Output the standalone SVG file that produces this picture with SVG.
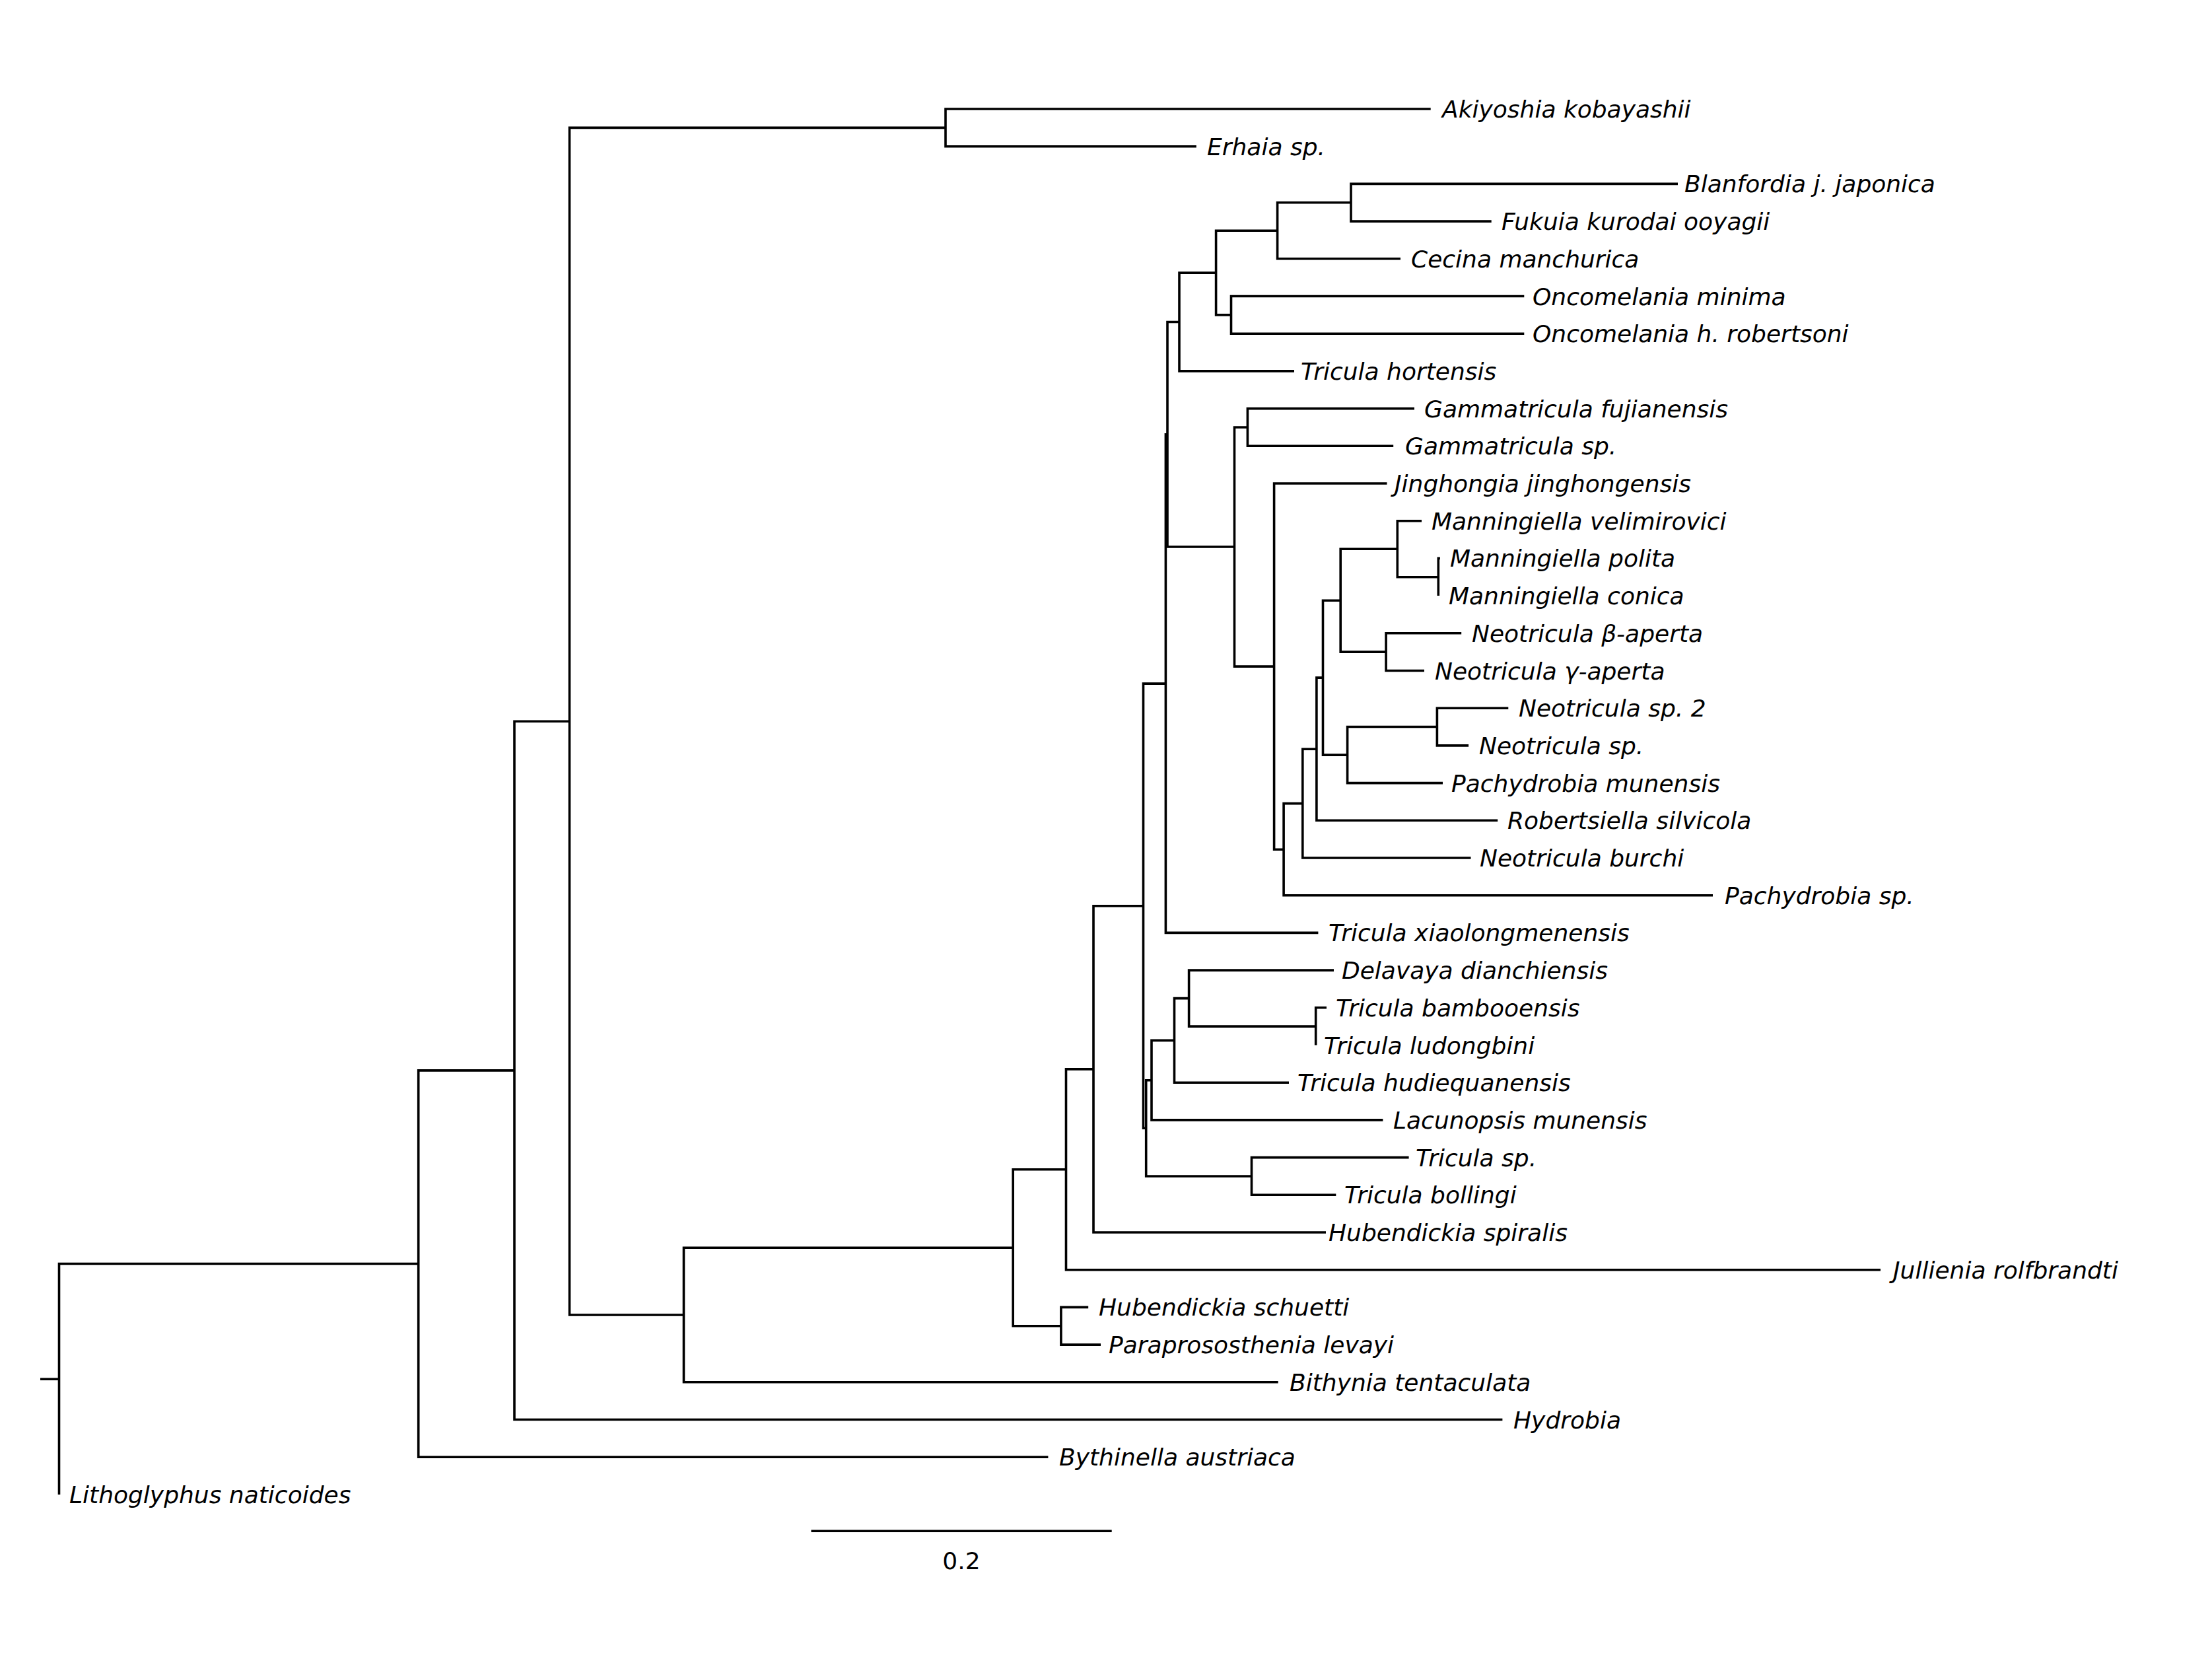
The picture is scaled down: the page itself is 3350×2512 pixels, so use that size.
<svg xmlns="http://www.w3.org/2000/svg" width="3350" height="2512" viewBox="0 0 3350 2512">
<style>
.br{fill:none;stroke:#000;stroke-width:3.6;stroke-linejoin:miter;stroke-linecap:butt}
.lb{font-family:"DejaVu Sans","Liberation Sans",sans-serif;font-style:italic;font-size:36px;fill:#000}
.sc{font-family:"DejaVu Sans","Liberation Sans",sans-serif;font-size:36px;fill:#000;text-anchor:middle}
</style>
<rect width="3350" height="2512" fill="#fff"/>
<g id="branches">
<path class="br" d="M61,2088.2 H89.5"/>
<path class="br" d="M633.7,1913.5 H89.5 V2262.9"/>
<path class="br" d="M779,1620.9 H633.7 V2206.2 H1587.4"/>
<path class="br" d="M862.5,1092.2 H779 V2149.5 H2275.4"/>
<path class="br" d="M1432,193.35 H862.5 V1991 H1035.5"/>
<path class="br" d="M2166.7,165 H1432 V221.7 H1811.8"/>
<path class="br" d="M1534.2,1889.3 H1035.5 V2092.8 H1935.7"/>
<path class="br" d="M1614.5,1770.8 H1534.2 V2007.75 H1606.9"/>
<path class="br" d="M1648.2,1979.4 H1606.9 V2036.1 H1667"/>
<path class="br" d="M1656,1618.9 H1614.5 V1922.7 H2848"/>
<path class="br" d="M1731.5,1371.7 H1656 V1866 H2008"/>
<path class="br" d="M1765.4,1035.1 H1731.5 V1708.3 H1735.7"/>
<path class="br" d="M1744,1635.7 H1735.7 V1780.95 H1895.5"/>
<path class="br" d="M2133.6,1752.6 H1895.5 V1809.3 H2023.3"/>
<path class="br" d="M1778.5,1575.4 H1744 V1695.9 H2094.4"/>
<path class="br" d="M1800.6,1511.6 H1778.5 V1639.2 H1952"/>
<path class="br" d="M2020,1469.1 H1800.6 V1554.15 H1992.7"/>
<path class="br" d="M2009,1525.8 H1992.7 V1582.5"/>
<path class="br" d="M1768,657.8 H1765.4 V1412.4 H1996.4"/>
<path class="br" d="M1786,487.5 H1768 V828 H1869.5"/>
<path class="br" d="M1841.6,413.1 H1786 V561.9 H1960"/>
<path class="br" d="M1934.6,349.3 H1841.6 V476.85 H1864.5"/>
<path class="br" d="M2046,306.75 H1934.6 V391.8 H2121"/>
<path class="br" d="M2541,278.4 H2046 V335.1 H2258.7"/>
<path class="br" d="M2308.3,448.5 H1864.5 V505.2 H2308.3"/>
<path class="br" d="M1889.4,646.95 H1869.5 V1009.1 H1929.6"/>
<path class="br" d="M2142,618.6 H1889.4 V675.3 H2110.2"/>
<path class="br" d="M2100.5,732 H1929.6 V1286.2 H1944.1"/>
<path class="br" d="M1972.8,1216.6 H1944.1 V1355.7 H2594"/>
<path class="br" d="M1993.9,1134.2 H1972.8 V1299 H2227.5"/>
<path class="br" d="M2003.5,1026.1 H1993.9 V1242.3 H2268.2"/>
<path class="br" d="M2030.2,909.2 H2003.5 V1143.1 H2040.6"/>
<path class="br" d="M2116.3,831.2 H2030.2 V987.15 H2099.1"/>
<path class="br" d="M2153,788.7 H2116.3 V873.75 H2178.3"/>
<path class="br" d="M2180.9,845.4 H2178.3 V902.1"/>
<path class="br" d="M2213.2,958.8 H2099.1 V1015.5 H2157"/>
<path class="br" d="M2176.4,1100.55 H2040.6 V1185.6 H2185"/>
<path class="br" d="M2284.3,1072.2 H2176.4 V1128.9 H2224.1"/>
</g>
<g id="leaf-akiyoshia"><text class="lb" x="2184" y="178">Akiyoshia kobayashii</text></g>
<g id="leaf-erhaia"><text class="lb" x="1828" y="234.7">Erhaia sp.</text></g>
<g id="leaf-blanfordia"><text class="lb" x="2551" y="291.4">Blanfordia j. japonica</text></g>
<g id="leaf-fukuia"><text class="lb" x="2274" y="348.1">Fukuia kurodai ooyagii</text></g>
<g id="leaf-cecina"><text class="lb" x="2137" y="404.8">Cecina manchurica</text></g>
<g id="leaf-onco-minima"><text class="lb" x="2321" y="461.5">Oncomelania minima</text></g>
<g id="leaf-onco-robertsoni"><text class="lb" x="2321" y="518.2">Oncomelania h. robertsoni</text></g>
<g id="leaf-tricula-hortensis"><text class="lb" x="1970" y="574.9">Tricula hortensis</text></g>
<g id="leaf-gamma-fujianensis"><text class="lb" x="2157" y="631.6">Gammatricula fujianensis</text></g>
<g id="leaf-gamma-sp"><text class="lb" x="2128" y="688.3">Gammatricula sp.</text></g>
<g id="leaf-jinghongia"><text class="lb" x="2112" y="745">Jinghongia jinghongensis</text></g>
<g id="leaf-mann-velimirovici"><text class="lb" x="2168" y="801.7">Manningiella velimirovici</text></g>
<g id="leaf-mann-polita"><text class="lb" x="2196" y="858.4">Manningiella polita</text></g>
<g id="leaf-mann-conica"><text class="lb" x="2194" y="915.1">Manningiella conica</text></g>
<g id="leaf-neo-beta"><text class="lb" x="2229" y="971.8">Neotricula β-aperta</text></g>
<g id="leaf-neo-gamma"><text class="lb" x="2173" y="1028.5">Neotricula γ-aperta</text></g>
<g id="leaf-neo-sp2"><text class="lb" x="2300" y="1085.2">Neotricula sp. 2</text></g>
<g id="leaf-neo-sp"><text class="lb" x="2240" y="1141.9">Neotricula sp.</text></g>
<g id="leaf-pachy-munensis"><text class="lb" x="2198" y="1198.6">Pachydrobia munensis</text></g>
<g id="leaf-robertsiella"><text class="lb" x="2283" y="1255.3">Robertsiella silvicola</text></g>
<g id="leaf-neo-burchi"><text class="lb" x="2241" y="1312">Neotricula burchi</text></g>
<g id="leaf-pachy-sp"><text class="lb" x="2612" y="1368.7">Pachydrobia sp.</text></g>
<g id="leaf-tricula-xiaolong"><text class="lb" x="2012" y="1425.4">Tricula xiaolongmenensis</text></g>
<g id="leaf-delavaya"><text class="lb" x="2032" y="1482.1">Delavaya dianchiensis</text></g>
<g id="leaf-tricula-bamboo"><text class="lb" x="2023" y="1538.8">Tricula bambooensis</text></g>
<g id="leaf-tricula-ludong"><text class="lb" x="2005" y="1595.5">Tricula ludongbini</text></g>
<g id="leaf-tricula-hudie"><text class="lb" x="1965" y="1652.2">Tricula hudiequanensis</text></g>
<g id="leaf-lacunopsis"><text class="lb" x="2110" y="1708.9">Lacunopsis munensis</text></g>
<g id="leaf-tricula-sp"><text class="lb" x="2144" y="1765.6">Tricula sp.</text></g>
<g id="leaf-tricula-bollingi"><text class="lb" x="2036" y="1822.3">Tricula bollingi</text></g>
<g id="leaf-hub-spiralis"><text class="lb" x="2012" y="1879">Hubendickia spiralis</text></g>
<g id="leaf-jullienia"><text class="lb" x="2867" y="1935.7">Jullienia rolfbrandti</text></g>
<g id="leaf-hub-schuetti"><text class="lb" x="1664" y="1992.4">Hubendickia schuetti</text></g>
<g id="leaf-paraprososthenia"><text class="lb" x="1679" y="2049.1">Paraprososthenia levayi</text></g>
<g id="leaf-bithynia"><text class="lb" x="1953" y="2105.8">Bithynia tentaculata</text></g>
<g id="leaf-hydrobia"><text class="lb" x="2292" y="2162.5">Hydrobia</text></g>
<g id="leaf-bythinella"><text class="lb" x="1604" y="2219.2">Bythinella austriaca</text></g>
<g id="leaf-lithoglyphus"><text class="lb" x="105" y="2275.9">Lithoglyphus naticoides</text></g>
<g id="scale-bar">
<path class="br" d="M1228.5,2318.3 H1683.7"/>
<text class="sc" x="1456" y="2376">0.2</text>
</g>
</svg>
